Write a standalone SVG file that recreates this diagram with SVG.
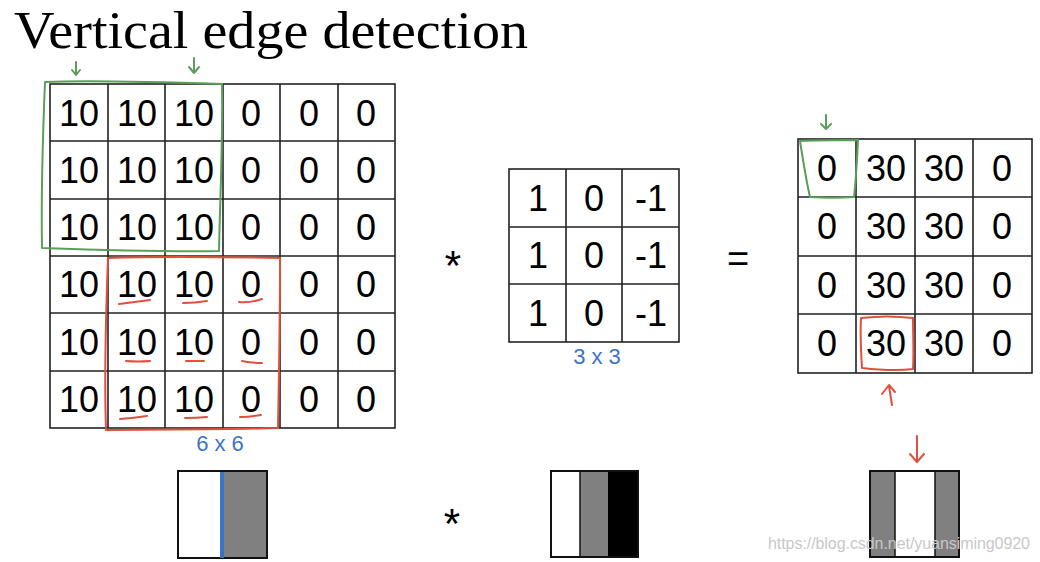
<svg xmlns="http://www.w3.org/2000/svg" width="1040" height="562" viewBox="0 0 1040 562">
<style>
.g{fill:none;stroke:#222;stroke-width:1.6}
.n{font-family:"Liberation Sans",Arial,sans-serif;font-size:36px;fill:#000;text-anchor:middle}
.gr{fill:none;stroke:#5a9e5a;stroke-width:2;stroke-linecap:round;stroke-linejoin:round}
.rd{fill:none;stroke:#e0503c;stroke-width:2;stroke-linecap:round;stroke-linejoin:round}
.hb{font-family:"Liberation Sans",Arial,sans-serif;font-size:22px;fill:#3a74c4;text-anchor:middle}
.op{font-family:"Liberation Sans",Arial,sans-serif;fill:#000;text-anchor:middle}
</style>
<rect width="1040" height="562" fill="#fff"/>
<text x="14" y="48" font-family="Liberation Serif,'Times New Roman',serif" font-size="52" textLength="514" lengthAdjust="spacingAndGlyphs">Vertical edge detection</text>

<g id="input">
<rect class="g" x="50" y="84" width="345" height="344"/>
<path class="g" d="M108 84V428M165 84V428M223 84V428M280 84V428M338 84V428M50 141H395M50 199H395M50 256H395M50 313H395M50 371H395"/>
<g class="n">
<text x="79" y="126">10</text><text x="137" y="126">10</text><text x="194" y="126">10</text><text x="251" y="126">0</text><text x="309" y="126">0</text><text x="366" y="126">0</text>
<text x="79" y="183">10</text><text x="137" y="183">10</text><text x="194" y="183">10</text><text x="251" y="183">0</text><text x="309" y="183">0</text><text x="366" y="183">0</text>
<text x="79" y="240">10</text><text x="137" y="240">10</text><text x="194" y="240">10</text><text x="251" y="240">0</text><text x="309" y="240">0</text><text x="366" y="240">0</text>
<text x="79" y="297">10</text><text x="137" y="297">10</text><text x="194" y="297">10</text><text x="251" y="297">0</text><text x="309" y="297">0</text><text x="366" y="297">0</text>
<text x="79" y="355">10</text><text x="137" y="355">10</text><text x="194" y="355">10</text><text x="251" y="355">0</text><text x="309" y="355">0</text><text x="366" y="355">0</text>
<text x="79" y="412">10</text><text x="137" y="412">10</text><text x="194" y="412">10</text><text x="251" y="412">0</text><text x="309" y="412">0</text><text x="366" y="412">0</text>
</g>
<text class="hb" x="220" y="451">6 x 6</text>
</g>

<g id="green-window">
<path class="gr" d="M45 82C90 80 160 82 222 84C223 140 220 200 219 251C160 252 100 250 42 248C41 190 43 130 45 82Z"/>
<path class="gr" d="M76 62V74M72 70L76 75L80 70"/>
<path class="gr" d="M194 58V72M189 67L194 73L199 67"/>
</g>

<g id="red-window">
<path class="rd" d="M108 258C165 256 225 257 280 258C280 315 279 375 278 428C220 430 160 429 106 430C104 370 106 310 108 258Z"/>
<path class="rd" d="M119 304Q134 302 150 300M183 303Q195 303 207 301M239 302Q250 303 262 299"/>
<path class="rd" d="M126 361Q138 362 150 361M186 361Q196 361 204 361M242 361Q252 363 262 363"/>
<path class="rd" d="M120 419Q134 418 147 416M185 418Q196 418 207 417M240 417Q250 417 261 415"/>
</g>

<text class="op" x="453" y="280" font-size="42">*</text>

<g id="filter">
<rect class="g" x="509" y="169" width="170" height="173"/>
<path class="g" d="M566 169V342M622 169V342M509 227H679M509 284H679"/>
<g class="n">
<text x="538" y="211">1</text><text x="594" y="211">0</text><text x="651" y="211">-1</text>
<text x="538" y="268">1</text><text x="594" y="268">0</text><text x="651" y="268">-1</text>
<text x="538" y="326">1</text><text x="594" y="326">0</text><text x="651" y="326">-1</text>
</g>
<text class="hb" x="597" y="364">3 x 3</text>
</g>

<text class="op" x="738" y="272" font-size="38">=</text>

<g id="output">
<rect class="g" x="798" y="139" width="234" height="234"/>
<path class="g" d="M856 139V373M915 139V373M973 139V373M798 197H1032M798 256H1032M798 314H1032"/>
<g class="n">
<text x="827" y="181">0</text><text x="886" y="181">30</text><text x="944" y="181">30</text><text x="1002" y="181">0</text>
<text x="827" y="239">0</text><text x="886" y="239">30</text><text x="944" y="239">30</text><text x="1002" y="239">0</text>
<text x="827" y="298">0</text><text x="886" y="298">30</text><text x="944" y="298">30</text><text x="1002" y="298">0</text>
<text x="827" y="356">0</text><text x="886" y="356">30</text><text x="944" y="356">30</text><text x="1002" y="356">0</text>
</g>
<path class="gr" d="M800 141C820 140 840 140 858 140C857 160 856 180 854 197C840 198 825 198 810 197C806 180 803 160 800 141Z"/>
<path class="gr" d="M826 115V128M821 124L826 129L831 124"/>
<path class="rd" d="M861 318C878 316 896 316 913 318C913 335 914 352 913 369C897 371 880 370 862 368C861 352 860 335 861 318Z"/>
<path class="rd" d="M892 405L889 386M882 394L889 385L895 392"/>
<path class="rd" d="M917 436V461M910 454L917 462L924 454"/>
</g>

<g id="image-input">
<rect x="178" y="471" width="89" height="87" fill="#fff"/>
<rect x="222" y="471" width="45" height="87" fill="#808080"/>
<rect x="178" y="471" width="89" height="87" fill="none" stroke="#111" stroke-width="2"/>
<path d="M222 472V558" stroke="#3a74c4" stroke-width="4" fill="none"/>
</g>

<text class="op" x="452" y="538" font-size="42">*</text>

<g id="image-filter">
<rect x="551" y="471" width="29" height="86" fill="#fff"/>
<rect x="580" y="471" width="28" height="86" fill="#808080"/>
<rect x="608" y="471" width="30" height="86" fill="#000"/>
<rect x="551" y="471" width="87" height="86" fill="none" stroke="#111" stroke-width="2"/>
<path d="M580 471V557" stroke="#111" stroke-width="1.5"/>
</g>

<g id="image-output">
<rect x="870" y="471" width="25" height="86" fill="#808080"/>
<rect x="895" y="471" width="40" height="86" fill="#fff"/>
<rect x="935" y="471" width="24" height="86" fill="#808080"/>
<rect x="870" y="471" width="89" height="86" fill="none" stroke="#111" stroke-width="2"/>
<path d="M895 471V557M935 471V557" stroke="#111" stroke-width="1.5"/>
</g>

<text x="768" y="549" font-family="Liberation Sans,Arial,sans-serif" font-size="16" fill="#c8c8c8" textLength="262">https://blog.csdn.net/yuansiming0920</text>
</svg>
